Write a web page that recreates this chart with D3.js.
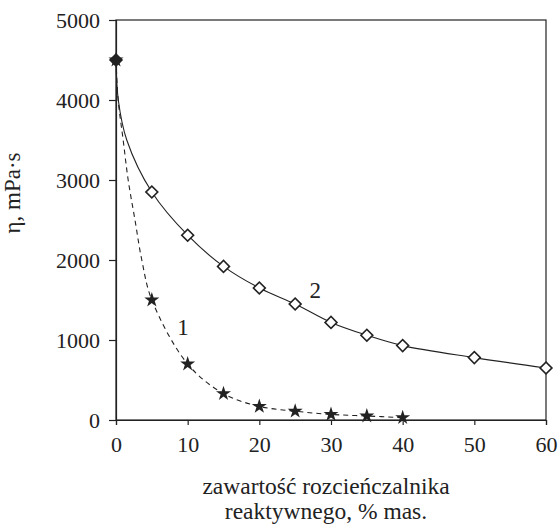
<!DOCTYPE html>
<html><head><meta charset="utf-8">
<script src="https://cdn.jsdelivr.net/npm/d3@7/dist/d3.min.js"></script>
<style>body{margin:0;background:#fff}svg{display:block}text{font-family:"Liberation Serif","Times New Roman",serif;fill:#222}</style>
</head><body><svg id="c" width="558" height="524"></svg>
<script>
// data
const xTicks = [0, 10, 20, 30, 40, 50, 60];
const yTicks = [0, 1000, 2000, 3000, 4000, 5000];
const s1X = [0, 5, 10, 15, 20, 25, 30, 35, 40];
const s1Y = [4500, 1500, 700, 330, 170, 110, 70, 50, 30];
const s2X = [0, 5, 10, 15, 20, 25, 30, 35, 40, 50, 60];
const s2Y = [4500, 2850, 2310, 1920, 1650, 1450, 1220, 1060, 930, 780, 650];
// trend curves
const t1X = [0, 0.3, 1.0, 1.7, 2.65, 3.6, 5, 10, 15, 20, 25, 30, 35, 40];
const t1Y = [4500, 4000, 3500, 3000, 2500, 2000, 1500, 700, 330, 170, 110, 70, 50, 30];
const t2X = [0, 0.32, 1.5, 5, 10, 15, 20, 25, 30, 35, 40, 50, 60];
const t2Y = [4500, 4000, 3500, 2850, 2310, 1920, 1650, 1450, 1220, 1060, 930, 780, 650];
const labels = [{t:"1", x:9.35, y:1060}, {t:"2", x:27.8, y:1525}];

const svg = d3.select("#c");
const L = 116, R = 546, T = 20, B = 420;
const x = d3.scaleLinear().domain([0, 60]).range([L, R]);
const y = d3.scaleLinear().domain([0, 5000]).range([B, T]);
const ink = "#222";

// frame
svg.append("rect").attr("x", L).attr("y", T).attr("width", R - L).attr("height", B - T)
  .attr("fill", "none").attr("stroke", ink).attr("stroke-width", 1.2);

const ya = svg.append("g").attr("transform", `translate(${L},0)`)
  .call(d3.axisLeft(y).tickValues(yTicks).tickSize(7).tickPadding(9).tickFormat(d3.format("d")));
const xa = svg.append("g").attr("transform", `translate(0,${B})`)
  .call(d3.axisBottom(x).tickValues(xTicks).tickSize(5).tickPadding(11).tickFormat(d3.format("d")));
[ya, xa].forEach(g => {
  g.attr("font-family", null);
  g.select(".domain").attr("stroke", ink).attr("stroke-width", 1.2);
  g.selectAll(".tick line").attr("stroke", ink).attr("stroke-width", 1.2);
  g.selectAll("text").attr("font-size", 22).attr("font-family", "Liberation Serif").attr("fill", ink);
});

const line = d3.line().curve(d3.curveCatmullRom.alpha(0.5)).x(d => x(d[0])).y(d => y(d[1]));
svg.append("path").datum(t1X.map((v, i) => [v, t1Y[i]])).attr("d", line)
  .attr("fill", "none").attr("stroke", ink).attr("stroke-width", 1.1).attr("stroke-dasharray", "5,4");
svg.append("path").datum(t2X.map((v, i) => [v, t2Y[i]])).attr("d", line)
  .attr("fill", "none").attr("stroke", ink).attr("stroke-width", 1.1);

// diamonds
svg.selectAll(".dia").data(s2X.map((v, i) => [v, s2Y[i]])).join("path")
  .attr("transform", d => `translate(${x(d[0])},${y(d[1])}) rotate(45)`)
  .attr("d", "M-4.2,-4.2H4.2V4.2H-4.2Z")
  .attr("fill", (d, i) => i === 0 ? ink : "#fff").attr("stroke", ink).attr("stroke-width", 1.6);
// stars
const star = d3.symbol().type(d3.symbolStar).size(70);
svg.selectAll(".star").data(s1X.map((v, i) => [v, s1Y[i]])).join("path")
  .attr("transform", d => `translate(${x(d[0])},${y(d[1])})`)
  .attr("d", star).attr("fill", ink);

// curve labels
svg.selectAll(".lab").data(labels).join("text")
  .attr("x", d => x(d.x)).attr("y", d => y(d.y)).attr("text-anchor", "middle")
  .attr("font-size", 23).text(d => d.t);

// axis titles
svg.append("text").attr("transform", "translate(20,193) rotate(-90)").attr("text-anchor", "middle")
  .attr("font-size", 23).text("η, mPa·s");
svg.append("text").attr("x", 326).attr("y", 494).attr("text-anchor", "middle")
  .attr("font-size", 23.5).text("zawartość rozcieńczalnika");
svg.append("text").attr("x", 326).attr("y", 519).attr("text-anchor", "middle")
  .attr("font-size", 23.5).text("reaktywnego, % mas.");
</script></body></html>
